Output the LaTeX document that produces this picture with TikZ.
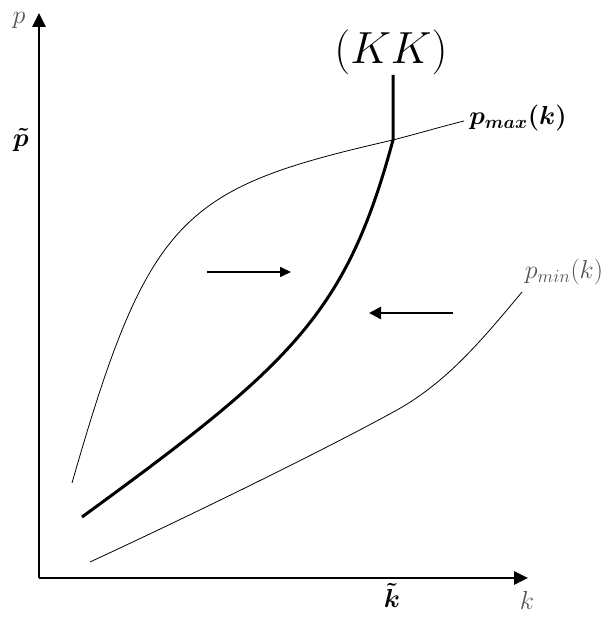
\RequirePackage{fix-cm}
\documentclass[tikz,border=0pt]{standalone}
\usepackage{amsmath,amssymb,bm}
\usepackage{tikz}
\usepackage{xcolor}
\usetikzlibrary{arrows.meta,calc,positioning}
\definecolor{labelgrey}{RGB}{85,85,85}

\begin{document}
\begin{tikzpicture}[x=1pt,y=1pt,font=\fontsize{26}{30}\selectfont,>={Triangle[length=14pt,width=13pt]}]
\useasboundingbox (0,0) rectangle (610,617);
\coordinate (o) at (39,39); \coordinate (ptop) at (39,604);
\coordinate (kend) at (528,39);
\coordinate (c) at (393,477); \coordinate (kktop) at (393,542);
% axes
\draw[line width=2.6pt,->] (o)--(ptop);
\draw[line width=2.6pt,->] (o)--(kend);
\node[labelgrey,inner sep=1pt] (plab) at (19,597) {$p$};
\node[inner sep=0pt] (pt) at (21,477) {$\bm{\tilde p}$};
\node[inner sep=0pt,anchor=north] (kt) at (392,34) {$\bm{\tilde k}$};
\node[labelgrey,inner sep=1pt] (klab) at (527,17) {$k$};
% bounds
\draw[line width=.8pt] (72,134) .. controls (149,403) and (183,429) .. (c) .. controls (420,484) and (440,490) .. (464,496);
\draw[line width=.8pt] (90,55) .. controls (200,106) and (330,170) .. (397,207) .. controls (447,235) and (482,277) .. (522,325);
\node[inner sep=1pt] (pmax) at (518,499) {$\bm{p_{max}(k)}$};
\node[labelgrey,inner sep=1pt] (pmin) at (564,345) {$p_{min}(k)$};
% (KK) curve
\draw[line width=3pt] (82,100) .. controls (292,253) and (346,303) .. (c) -- (kktop);
\node (kk) at (391,565) {\fontsize{45}{50}\selectfont$(KK)$};
% directions
\coordinate (a1) at (207,345); \coordinate (a2) at (291,345);
\coordinate (b1) at (453,304); \coordinate (b2) at (369,304);
\draw[line width=1.6pt,-{Triangle[length=11pt,width=10pt]}] (a1)--(a2);
\draw[line width=2.6pt,-{Triangle[length=12pt,width=12pt]}] (b1)--(b2);
\end{tikzpicture}
\end{document}
